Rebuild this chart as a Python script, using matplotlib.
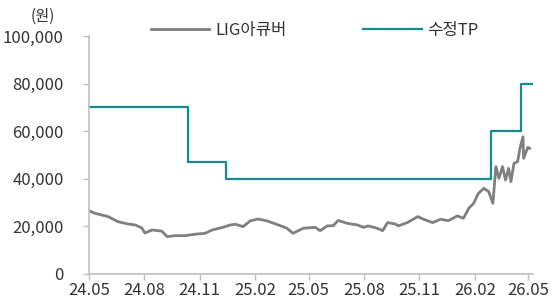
#!/usr/bin/env python3
"""LIG아큐버 price vs revised target price (TP)."""

import matplotlib
matplotlib.use("Agg")
import matplotlib.pyplot as plt
import matplotlib.dates as mdates
import pandas as pd

plt.rcParams["font.family"] = ["Noto Sans CJK KR", "DejaVu Sans"]
plt.rcParams["font.weight"] = "light"

# share price (원)
price_dates = [
    "2024-05-01", "2024-05-11", "2024-06-02", "2024-06-18", "2024-07-05", "2024-07-17",
    "2024-07-28", "2024-08-02", "2024-08-14", "2024-08-30", "2024-09-08", "2024-09-21",
    "2024-10-08", "2024-10-24", "2024-11-10", "2024-11-22", "2024-12-08", "2024-12-22",
    "2024-12-30", "2025-01-12", "2025-01-24", "2025-02-06", "2025-02-21", "2025-03-15",
    "2025-03-26", "2025-04-05", "2025-04-22", "2025-05-12", "2025-05-20", "2025-06-01",
    "2025-06-11", "2025-06-19", "2025-07-04", "2025-07-21", "2025-07-31", "2025-08-08",
    "2025-08-23", "2025-09-01", "2025-09-09", "2025-09-22", "2025-09-27", "2025-10-12",
    "2025-10-29", "2025-11-08", "2025-11-23", "2025-12-06", "2025-12-19", "2026-01-03",
    "2026-01-13", "2026-01-22", "2026-01-30", "2026-02-07", "2026-02-16", "2026-02-24",
    "2026-03-03", "2026-03-08", "2026-03-13", "2026-03-19", "2026-03-24", "2026-03-29",
    "2026-04-02", "2026-04-07", "2026-04-13", "2026-04-17", "2026-04-22", "2026-04-23",
    "2026-04-30", "2026-05-03",
]
price_values = [
    26600, 25500, 24100, 22000, 21000, 20600,
    19300, 17200, 18500, 18000, 15700, 16100,
    16100, 16700, 17100, 18500, 19500, 20600,
    20900, 19900, 22300, 23100, 22300, 20300,
    19200, 17100, 19200, 19600, 18200, 20200,
    20300, 22500, 21300, 20600, 19600, 20200,
    19200, 18200, 21600, 21000, 20200, 21600,
    24100, 23000, 21600, 23000, 22400, 24400,
    23400, 27600, 29700, 33900, 36000, 34600,
    29700, 45100, 40200, 45100, 39500, 44400,
    38800, 46500, 47200, 52800, 57700, 48600,
    53200, 52800,
]

# revised target price steps (start date of each level, plus end date)
tp_dates = ["2024-05-01", "2024-10-13", "2024-12-15", "2026-02-28", "2026-04-18", "2026-05-11"]
tp_values = [70000, 47000, 40000, 60000, 80000, 80000]

xtick_dates = ["2024-05-01", "2024-08-01", "2024-11-01", "2025-02-01", "2025-05-01",
               "2025-08-01", "2025-11-01", "2026-02-01", "2026-05-01"]

GRAY = "#7f7f7f"
TEAL = "#168a8e"
AXIS = "#bfbfbf"
TEXT = "#333333"


def main() -> None:
    fig = plt.figure(figsize=(5.52, 3.04), dpi=100)
    ax = fig.add_axes([0.161, 0.0987, 0.805, 0.783])

    px = pd.to_datetime(price_dates)
    tx = pd.to_datetime(tp_dates)
    ax.plot(px, price_values, color=GRAY, lw=2.0, label="LIG아큐버", solid_joinstyle="round")
    ax.step(tx, tp_values, where="post", color=TEAL, lw=1.6, label="수정TP")

    ax.set_ylim(0, 100000)
    ax.set_yticks(range(0, 100001, 20000))
    ax.yaxis.set_major_formatter(matplotlib.ticker.FuncFormatter(lambda v, _: f"{int(v):,}"))
    ax.set_xlim(pd.Timestamp("2024-05-01"), pd.Timestamp("2026-05-09"))
    ax.set_xticks(pd.to_datetime(xtick_dates))
    ax.xaxis.set_major_formatter(mdates.DateFormatter("%y.%m"))

    for side in ("top", "right"):
        ax.spines[side].set_visible(False)
    for side in ("left", "bottom"):
        ax.spines[side].set_color(AXIS)
        ax.spines[side].set_linewidth(1.2)
    ax.tick_params(axis="both", colors=AXIS, length=4, width=1.0, labelcolor=TEXT, labelsize=12)
    ax.tick_params(axis="x", pad=2)
    ax.tick_params(axis="y", pad=14)

    fig.text(0.055, 0.945, "(원)", fontsize=11, color=TEXT, ha="left", va="center")
    ax.legend(loc="lower left", bbox_to_anchor=(0.125, 0.96), ncol=2, frameon=False,
              handlelength=3.5, handletextpad=0.35, columnspacing=4.6, fontsize=12,
              labelcolor=TEXT, borderaxespad=0)

    fig.savefig("out.png", dpi=100)


if __name__ == "__main__":
    main()
